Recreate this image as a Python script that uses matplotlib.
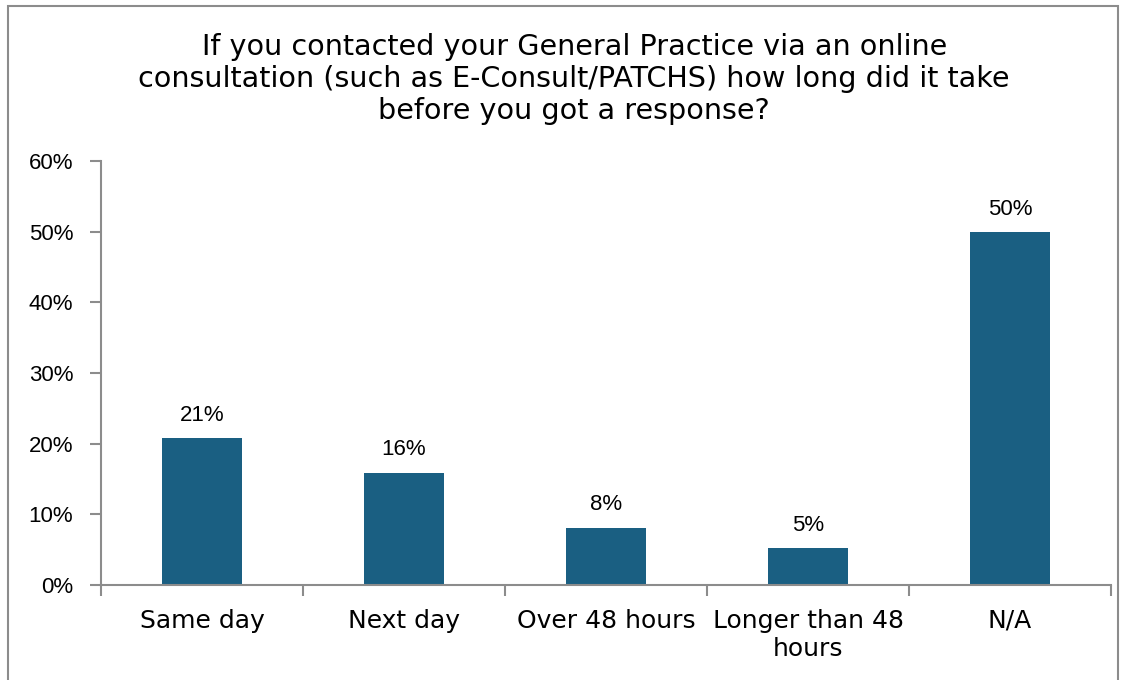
import matplotlib.pyplot as plt
from matplotlib.patches import Rectangle

# Survey responses (percent)
categories = ['Same day', 'Next day', 'Over 48 hours', 'Longer than 48\nhours', 'N/A']
values = [20.8, 15.9, 8.1, 5.2, 49.9]
labels = ['21%', '16%', '8%', '5%', '50%']
title = ('If you contacted your General Practice via an online\n'
         'consultation (such as E-Consult/PATCHS) how long did it take\n'
         'before you got a response?')

plt.rcParams['font.family'] = ['Liberation Sans', 'DejaVu Sans']

fig = plt.figure(figsize=(11.28, 6.8), dpi=100)
ax = fig.add_axes([0.0895, 0.1397, 0.8955, 0.6235])

x = range(len(categories))
ax.bar(x, values, width=0.4, color='#1a5f82')

# value labels above bars
for xi, v, lab in zip(x, values, labels):
    ax.annotate(lab, (xi, v), xytext=(0, 9), textcoords='offset points',
                ha='center', va='bottom', fontsize=16)

ax.set_ylim(0, 60)
ax.set_xlim(-0.5, len(categories) - 0.5)
ax.set_yticks(range(0, 61, 10))
ax.set_yticklabels([f'{t}%' for t in range(0, 61, 10)], fontsize=16)
ax.set_xticks(list(x))
ax.set_xticklabels(categories, fontsize=18, family=['DejaVu Sans'], linespacing=1.25)
ax.tick_params(axis='x', length=0, pad=17)
ax.tick_params(axis='y', length=8, color='#8c8c8c', width=1.5, pad=12)

# boundary ticks between categories
ax.set_xticks([i - 0.5 for i in range(len(categories) + 1)], minor=True)
ax.tick_params(axis='x', which='minor', length=8, color='#8c8c8c', width=1.5)

for s in ['top', 'right']:
    ax.spines[s].set_visible(False)
for s in ['left', 'bottom']:
    ax.spines[s].set_color('#8c8c8c')
    ax.spines[s].set_linewidth(1.5)

fig.text(0.509, 0.952, title, ha='center', va='top', fontsize=20.6,
         linespacing=1.18, family=['DejaVu Sans'])

fig.patches.append(Rectangle((8 / 1128, -0.01), 1110 / 1128, 0.006 + 677 / 680,
                             transform=fig.transFigure, fill=False,
                             edgecolor='#8c8c8c', linewidth=1.5))

fig.savefig('out.png', dpi=100)
